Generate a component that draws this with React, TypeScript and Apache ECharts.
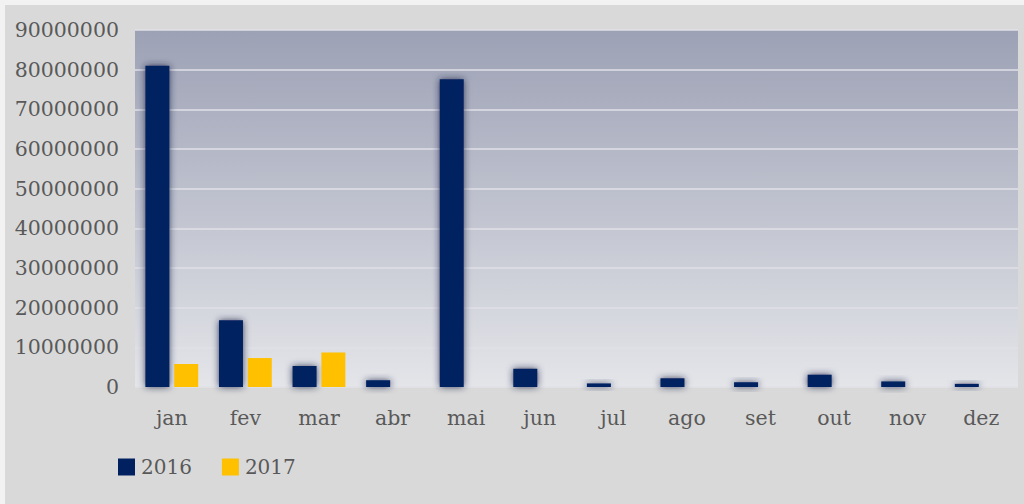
import React, { useEffect, useRef } from "react";
import * as echarts from "echarts";

const months = ["jan", "fev", "mar", "abr", "mai", "jun", "jul", "ago", "set", "out", "nov", "dez"];
const values2016 = [81000000, 16800000, 5300000, 1700000, 77600000, 4600000, 900000, 2200000, 1200000, 3100000, 1400000, 800000];
const values2017 = [5800000, 7300000, 8700000, null, null, null, null, null, null, null, null, null];
const seriesNames = ["2016", "2017"];
const yTicks = { min: 0, max: 90000000, interval: 10000000 };

const FONT = "DejaVu Serif";

export default function App() {
  const ref = useRef<HTMLDivElement>(null);
  useEffect(() => {
    document.body.style.margin = "0";
    const chart = echarts.init(ref.current!, null, { renderer: "svg" });
    chart.setOption({
      animation: false,
      backgroundColor: "#d9d9d9",
      graphic: [
        {
          type: "rect",
          left: 0,
          top: 0,
          shape: { width: 1024, height: 504 },
          style: { fill: "none", stroke: "#f2f2f2", lineWidth: 5 },
          silent: true,
        },
      ],
      grid: {
        left: 135,
        right: 6,
        top: 30,
        bottom: 117,
        show: true,
        borderWidth: 0,
        backgroundColor: new echarts.graphic.LinearGradient(0, 0, 0, 1, [
          { offset: 0, color: "#9ca1b5" },
          { offset: 1, color: "#e4e5e9" },
        ]),
      },
      legend: {
        left: 113,
        top: 452,
        itemWidth: 17,
        itemHeight: 17,
        itemGap: 30,
        icon: "rect",
        textStyle: { fontFamily: FONT, fontSize: 20, color: "#595959", padding: [0, 0, 0, 1] },
        data: seriesNames,
      },
      xAxis: {
        type: "category",
        data: months,
        axisLine: { show: false },
        axisTick: { show: false },
        axisLabel: { fontFamily: FONT, fontSize: 20.5, color: "#595959", margin: 20 },
      },
      yAxis: {
        type: "value",
        min: yTicks.min,
        max: yTicks.max,
        interval: yTicks.interval,
        axisLine: { show: false },
        axisTick: { show: false },
        splitLine: { lineStyle: { color: "#e0e1e7", width: 1.5 } },
        axisLabel: {
          fontFamily: FONT,
          fontSize: 20.5,
          color: "#595959",
          margin: 16,
          formatter: (v: number) => String(v),
        },
      },
      series: [
        {
          name: seriesNames[0],
          type: "bar",
          data: values2016,
          barWidth: 24,
          barGap: "20%",
          itemStyle: {
            color: "#002060",
            shadowBlur: 7,
            shadowColor: "rgba(30,40,70,0.85)",
          },
        },
        {
          name: seriesNames[1],
          type: "bar",
          data: values2017,
          barWidth: 24,
          barGap: "20%",
          itemStyle: { color: "#ffc000" },
        },
      ],
    });
    return () => chart.dispose();
  }, []);
  return <div ref={ref} style={{ width: 1024, height: 504 }} />;
}
